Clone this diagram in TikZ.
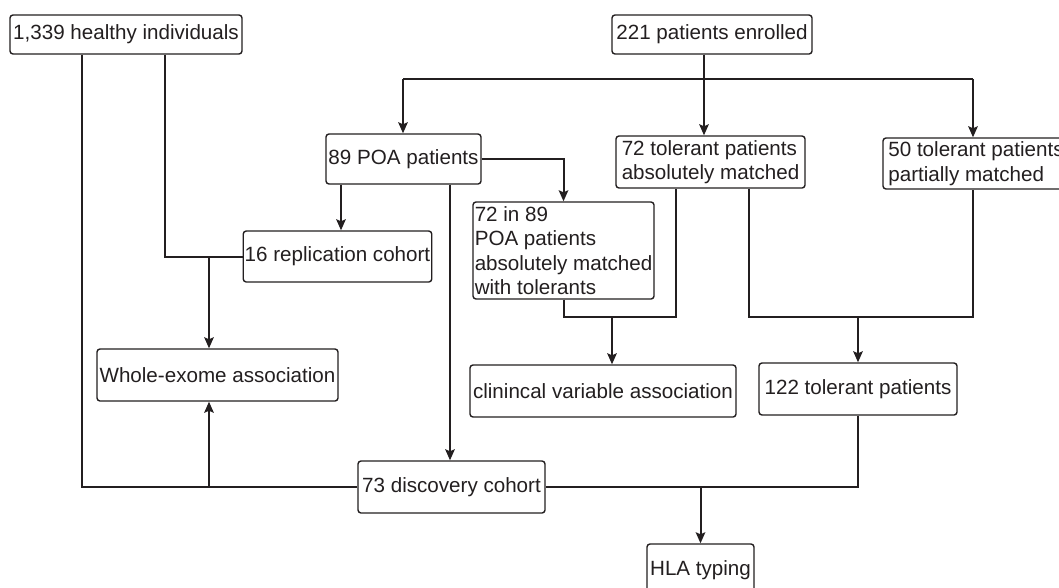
\documentclass[tikz,border=0pt]{standalone}
\usepackage{fontspec}
\setmainfont{Liberation Sans}
\usetikzlibrary{arrows.meta,calc}
\definecolor{ink}{HTML}{231F20}
\tikzset{
  box/.style={draw=ink, text=ink, line width=1.4pt, rounded corners=3pt,
    inner xsep=1.5pt, inner ysep=0pt, align=left,
    font=\fontsize{20.6pt}{24.5pt}\selectfont},
  conn/.style={draw=ink, line width=2pt},
  arr/.style={conn, -{Stealth[length=11pt,width=9.5pt,inset=2pt]}}
}
\begin{document}
\begin{tikzpicture}[x=1pt,y=-1pt]
\useasboundingbox (0,0) rectangle (1059,587);
\clip (0,0) rectangle (1059,587);
\fill[white] (0,0) rectangle (1059,587);
% boxes (centres and sizes)
\node[box, minimum width=232pt, minimum height=39pt] (hi) at (126,34.5) {1,339 healthy individuals};
\node[box, minimum width=200pt, minimum height=39pt] (en) at (712,34.5) {221 patients enrolled};
\node[box, minimum width=155pt, minimum height=50pt] (poa) at (403.5,159) {89 POA patients};
\node[box, minimum width=189pt, minimum height=52pt] (t72) at (710.5,162) {72 tolerant patients\\absolutely matched};
\node[box, minimum width=186pt, minimum height=51pt] (t50) at (976,163.5) {50 tolerant patients\\partially matched};
\node[box, minimum width=181pt, minimum height=97pt] (m72) at (563.5,250.5) {72 in 89\\POA patients\\absolutely matched\\with tolerants};
\node[box, minimum width=183pt, minimum height=51pt] (rep) at (337.5,256.5) {16 replication cohort};
\node[box, minimum width=241pt, minimum height=52pt] (we) at (217.5,375) {Whole-exome association};
\node[box, minimum width=266pt, minimum height=52pt] (cl) at (603,391) {clinincal variable association};
\node[box, minimum width=198pt, minimum height=52pt] (t122) at (858,389) {122 tolerant patients};
\node[box, minimum width=187pt, minimum height=52pt] (dc) at (451.5,487) {73 discovery cohort};
\node[box, minimum width=107pt, minimum height=52pt] (hla) at (700.5,570) {HLA typing};
% junction coordinates
\coordinate (top) at (704,79);
\coordinate (hl) at (403,79);
\coordinate (hr) at (973,79);
\coordinate (ha) at (82,0);
\coordinate (hb) at (165,0);
\coordinate (br) at (209,0);
\coordinate (pa) at (341,0);
\coordinate (pb) at (450,0);
\coordinate (c1) at (612,317);
\coordinate (ta) at (676,0);
\coordinate (tb) at (749,0);
\coordinate (c2) at (858,317);
% connectors
\draw[conn] (top|-en.south) -- (top);
\draw[conn] (hl) -- (hr);
\draw[arr] (top) -- (top|-t72.north);
\draw[arr] (hl) -- (hl|-poa.north);
\draw[arr] (hr) -- (hr|-t50.north);
\draw[conn] (ha|-hi.south) -- (ha|-dc.west) -- (dc.west);
\draw[conn] (hb|-hi.south) -- (hb|-rep.west) -- (rep.west);
\draw[arr] (br|-rep.west) -- (br|-we.north);
\draw[arr] (br|-dc.west) -- (br|-we.south);
\draw[arr] (pa|-poa.south) -- (pa|-rep.north);
\draw[arr] (pb|-poa.south) -- (pb|-dc.north);
\draw[arr] (poa.east) -| (m72.north);
\draw[conn] (m72.south) |- (ta|-c1) -- (ta|-t72.south);
\draw[arr] (c1) -- (c1|-cl.north);
\draw[conn] (tb|-t72.south) |- (hr|-c2) -- (hr|-t50.south);
\draw[arr] (c2) -- (c2|-t122.north);
\draw[conn] (t122.south) |- (dc.east);
\draw[arr] (hla.north|-dc.east) -- (hla.north);
\end{tikzpicture}
\end{document}
